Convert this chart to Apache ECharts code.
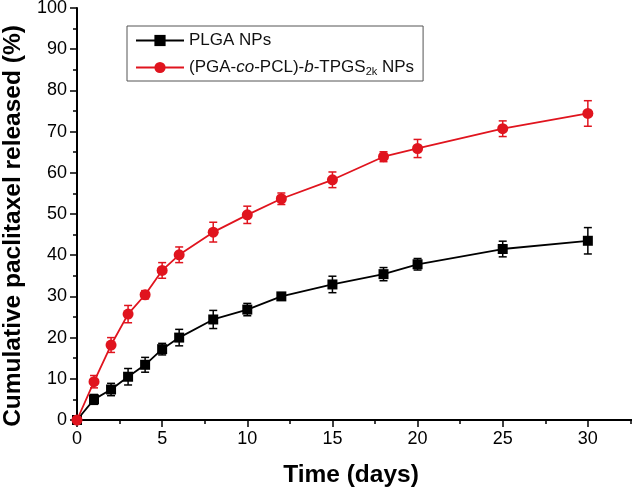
<!DOCTYPE html>
<html>
<head>
<meta charset="utf-8">
<script src="https://cdn.jsdelivr.net/npm/echarts@6/dist/echarts.min.js"></script>
<style>
  html, body { margin: 0; padding: 0; background: #fff; overflow: hidden; }
  /* the x axis runs past the right edge of the window, as in the figure */
  #chart { width: 673px; height: 491px; }
</style>
</head>
<body>
<div id="chart"></div>
<script>
// release time points (days)
const days = [0, 1, 2, 3, 4, 5, 6, 8, 10, 12, 15, 18, 20, 25, 30];

// cumulative release (%) and error (SD)
const plga = [0, 5.0, 7.4, 10.5, 13.4, 17.2, 20.0, 24.4, 26.8, 30.0, 32.9, 35.4, 37.8, 41.5, 43.5];
const plgaErr = [0, 1.2, 1.5, 2.0, 1.8, 1.4, 2.0, 2.2, 1.5, 0.8, 2.0, 1.6, 1.4, 1.9, 3.2];
const tpgs = [0, 9.3, 18.2, 25.7, 30.4, 36.3, 40.1, 45.6, 49.8, 53.7, 58.3, 63.9, 65.9, 70.7, 74.4];
const tpgsErr = [0, 1.5, 1.8, 2.1, 1.0, 1.9, 1.9, 2.4, 2.1, 1.4, 1.9, 1.2, 2.2, 1.9, 3.1];

const seriesNames = ['PLGA NPs', 'TPGS NPs'];
const RED = '#e0141e';
const FONT = 'Liberation Sans, Arial, sans-serif';

const chart = echarts.init(document.getElementById('chart'));

function errData(vals, errs) {
  return days.map((d, i) => [d, vals[i] - errs[i], vals[i] + errs[i]]);
}

// draws a vertical error bar with caps
function errorBar(color) {
  return function (params, api) {
    const lo = api.coord([api.value(0), api.value(1)]);
    const hi = api.coord([api.value(0), api.value(2)]);
    if (Math.abs(lo[1] - hi[1]) < 1) return null;
    const w = 4;
    const style = { stroke: color, lineWidth: 1.5 };
    return {
      type: 'group',
      children: [
        { type: 'line', shape: { x1: lo[0], y1: lo[1], x2: hi[0], y2: hi[1] }, style },
        { type: 'line', shape: { x1: lo[0] - w, y1: lo[1], x2: lo[0] + w, y2: lo[1] }, style },
        { type: 'line', shape: { x1: hi[0] - w, y1: hi[1], x2: hi[0] + w, y2: hi[1] }, style }
      ]
    };
  };
}

const option = {
  animation: false,
  textStyle: { fontFamily: FONT },
  grid: { left: 77, top: 8, bottom: 71, right: 0, containLabel: false, outerBoundsMode: 'none' },
  legend: {
    orient: 'vertical',
    left: 127,
    top: 26,
    padding: [6, 9, 4, 8],
    itemGap: 10,
    itemWidth: 48,
    itemHeight: 14,
    borderColor: '#555',
    borderWidth: 1,
    data: seriesNames,
    formatter: function (name) {
      if (name === 'PLGA NPs') return name;
      return '(PGA-{i|co}-PCL)-{i|b}-TPGS{sub|2k} NPs';
    },
    textStyle: {
      fontSize: 17,
      color: '#111',
      fontFamily: FONT,
      rich: {
        i: { fontSize: 17, fontStyle: 'italic', fontFamily: FONT, color: '#111' },
        sub: { fontSize: 11, fontFamily: FONT, color: '#111', verticalAlign: 'bottom', padding: [8, 0, 0, 0] }
      }
    }
  },
  xAxis: {
    type: 'value',
    min: 0,
    max: 35,
    interval: 5,
    name: 'Time (days)',
    nameLocation: 'middle',
    nameGap: 43,
    nameTextStyle: {
      fontSize: 24.5, fontWeight: 'bold', color: '#000', fontFamily: FONT,
      padding: [0, 48, 0, 0]
    },
    axisLine: { lineStyle: { color: '#000', width: 2 } },
    axisTick: { show: true, inside: false, length: 7, lineStyle: { color: '#000', width: 1.5 } },
    minorTick: { show: true, splitNumber: 2, length: 4, lineStyle: { color: '#000', width: 1.5 } },
    axisLabel: {
      fontSize: 18, color: '#000', margin: 10, fontFamily: FONT,
      formatter: v => (v > 30 ? '' : v)
    },
    splitLine: { show: false }
  },
  yAxis: {
    type: 'value',
    min: 0,
    max: 100,
    interval: 10,
    name: 'Cumulative paclitaxel released (%)',
    nameLocation: 'middle',
    nameGap: 48,
    nameTextStyle: {
      fontSize: 24.5, fontWeight: 'bold', color: '#000', fontFamily: FONT,
      padding: [0, 24, 0, 0]
    },
    axisLine: { show: true, lineStyle: { color: '#000', width: 2 } },
    axisTick: { show: true, inside: false, length: 7, lineStyle: { color: '#000', width: 1.5 } },
    minorTick: { show: true, splitNumber: 2, length: 4, lineStyle: { color: '#000', width: 1.5 } },
    axisLabel: { fontSize: 18, color: '#000', margin: 10, fontFamily: FONT },
    splitLine: { show: false }
  },
  series: [
    {
      name: seriesNames[0],
      type: 'line',
      data: days.map((d, i) => [d, plga[i]]),
      symbol: 'rect',
      symbolSize: 10,
      color: '#000',
      lineStyle: { color: '#000', width: 1.8 },
      itemStyle: { color: '#000' },
      z: 3
    },
    {
      name: seriesNames[1],
      type: 'line',
      data: days.map((d, i) => [d, tpgs[i]]),
      symbol: 'circle',
      symbolSize: 11,
      color: RED,
      lineStyle: { color: RED, width: 1.8 },
      itemStyle: { color: RED },
      z: 3
    },
    {
      type: 'custom',
      name: 'plgaErr',
      data: errData(plga, plgaErr),
      encode: { x: 0, y: [1, 2] },
      renderItem: errorBar('#000'),
      z: 2
    },
    {
      type: 'custom',
      name: 'tpgsErr',
      data: errData(tpgs, tpgsErr),
      encode: { x: 0, y: [1, 2] },
      renderItem: errorBar(RED),
      z: 2
    }
  ]
};

chart.setOption(option);
</script>
</body>
</html>
